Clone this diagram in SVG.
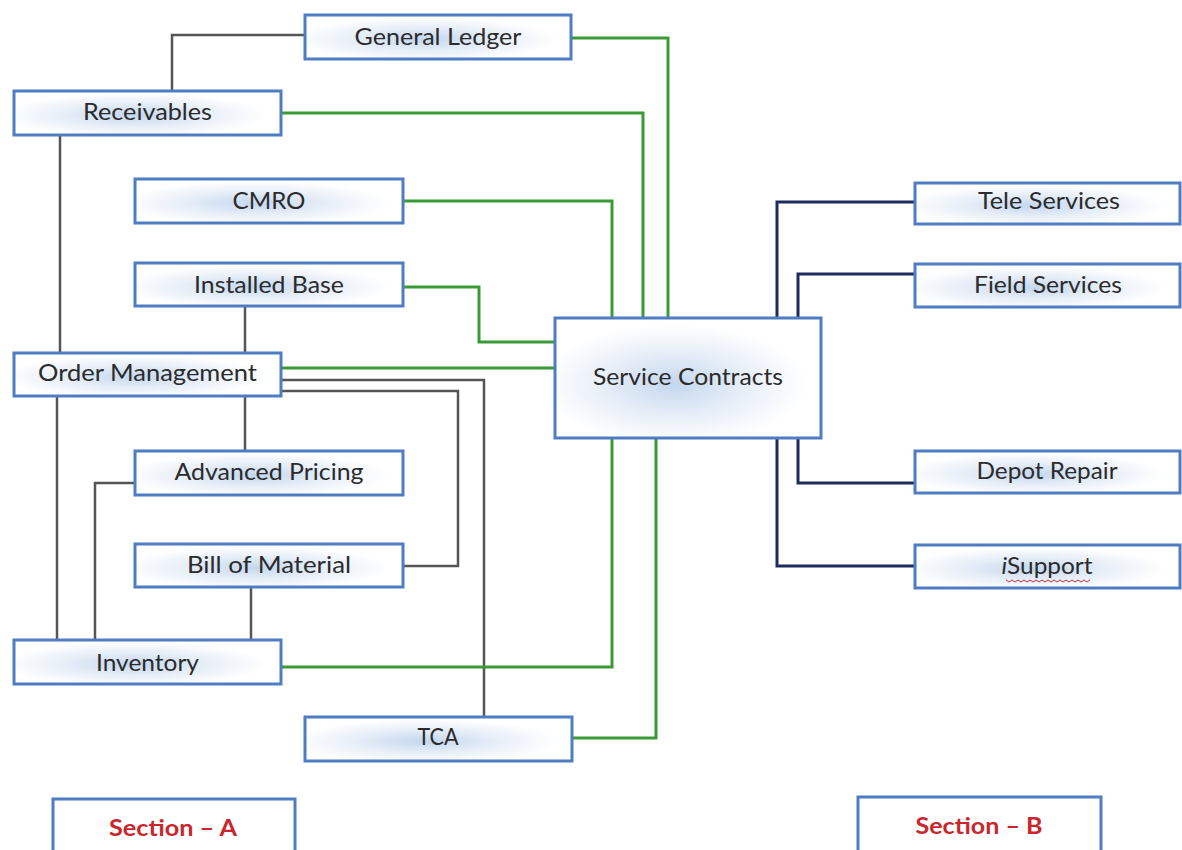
<svg xmlns="http://www.w3.org/2000/svg" width="1182" height="850" viewBox="0 0 1182 850">
<style>
.box{stroke:#4f7dc3;stroke-width:3;fill:url(#glow)}
.sec{stroke:#4f7dc3;stroke-width:3;fill:#ffffff}
.lbl{font-family:Lato,"Open Sans","Liberation Sans",sans-serif;font-size:23px;fill:#2b2b2b;text-anchor:middle}
.slbl{font-family:Lato,"Open Sans","Liberation Sans",sans-serif;font-size:22px;font-weight:bold;fill:#c8282d;text-anchor:middle}
.gray{fill:none;stroke:#555555;stroke-width:2.5}
.green{fill:none;stroke:#3a9a35;stroke-width:3}
.navy{fill:none;stroke:#1d2b5c;stroke-width:3}
</style>
<defs>
<radialGradient id="glow" cx="0.45" cy="0.55" r="0.5">
<stop offset="0" stop-color="#c4d7ee"/>
<stop offset="0.55" stop-color="#e8eff8"/>
<stop offset="1" stop-color="#ffffff"/>
</radialGradient>
</defs>
<rect width="1182" height="850" fill="#ffffff"/>
<g id="connectors">
<path class="gray" d="M305 35 H172 V91"/>
<path class="gray" d="M60 136 V353"/>
<path class="gray" d="M245 306 V353"/>
<path class="gray" d="M245 397 V451"/>
<path class="gray" d="M57 397 V640"/>
<path class="gray" d="M135 483 H95 V640"/>
<path class="gray" d="M251 588 V640"/>
<path class="gray" d="M282 380 H484 V717"/>
<path class="gray" d="M282 391 H458 V566 H404"/>
<path class="green" d="M571 38 H668 V318"/>
<path class="green" d="M282 113 H643 V318"/>
<path class="green" d="M404 201 H612 V318"/>
<path class="green" d="M404 287 H479 V342 H555"/>
<path class="green" d="M282 368 H555"/>
<path class="green" d="M282 667 H612 V438"/>
<path class="green" d="M573 738 H656 V438"/>
<path class="navy" d="M915 202 H777 V318"/>
<path class="navy" d="M915 274 H798 V318"/>
<path class="navy" d="M798 438 V483 H915"/>
<path class="navy" d="M777 438 V566 H915"/>
</g>
<g id="general-ledger"><rect class="box" x="305" y="15" width="266" height="44"/><text class="lbl" x="438" y="45" textLength="167" lengthAdjust="spacingAndGlyphs">General Ledger</text></g>
<g id="receivables"><rect class="box" x="14" y="91" width="267" height="44"/><text class="lbl" x="147.5" y="120" textLength="129" lengthAdjust="spacingAndGlyphs">Receivables</text></g>
<g id="cmro"><rect class="box" x="135" y="179" width="268" height="44"/><text class="lbl" x="269" y="209" textLength="73" lengthAdjust="spacingAndGlyphs">CMRO</text></g>
<g id="installed-base"><rect class="box" x="135" y="263" width="268" height="43"/><text class="lbl" x="269" y="293" textLength="150" lengthAdjust="spacingAndGlyphs">Installed Base</text></g>
<g id="order-management"><rect class="box" x="14" y="353" width="267" height="43"/><text class="lbl" x="147.5" y="381" textLength="219" lengthAdjust="spacingAndGlyphs">Order Management</text></g>
<g id="advanced-pricing"><rect class="box" x="135" y="451" width="268" height="44"/><text class="lbl" x="269" y="480" textLength="189" lengthAdjust="spacingAndGlyphs">Advanced Pricing</text></g>
<g id="bill-of-material"><rect class="box" x="135" y="544" width="268" height="43"/><text class="lbl" x="269" y="573" textLength="164" lengthAdjust="spacingAndGlyphs">Bill of Material</text></g>
<g id="inventory"><rect class="box" x="14" y="640" width="267" height="44"/><text class="lbl" x="147.5" y="671" textLength="103" lengthAdjust="spacingAndGlyphs">Inventory</text></g>
<g id="tca"><rect class="box" x="305" y="717" width="267" height="44"/><text class="lbl" x="438" y="745" textLength="41" lengthAdjust="spacingAndGlyphs">TCA</text></g>
<g id="service-contracts"><rect class="box" x="555" y="318" width="266" height="120"/><text class="lbl" x="688" y="385" textLength="190" lengthAdjust="spacingAndGlyphs">Service Contracts</text></g>
<g id="tele-services"><rect class="box" x="915" y="183" width="265" height="41"/><text class="lbl" x="1049" y="209" textLength="142" lengthAdjust="spacingAndGlyphs">Tele Services</text></g>
<g id="field-services"><rect class="box" x="915" y="264" width="265" height="43"/><text class="lbl" x="1048" y="293" textLength="148" lengthAdjust="spacingAndGlyphs">Field Services</text></g>
<g id="depot-repair"><rect class="box" x="915" y="451" width="265" height="42"/><text class="lbl" x="1047" y="479" textLength="141" lengthAdjust="spacingAndGlyphs">Depot Repair</text></g>
<g id="isupport"><rect class="box" x="915" y="545" width="265" height="43"/><text class="lbl" x="1047" y="574" textLength="91" lengthAdjust="spacingAndGlyphs"><tspan font-style="italic">i</tspan>Support</text><path d="M1006 580 l3 2 l3 -2 l3 2 l3 -2 l3 2 l3 -2 l3 2 l3 -2 l3 2 l3 -2 l3 2 l3 -2 l3 2 l3 -2 l3 2 l3 -2 l3 2 l3 -2 l3 2 l3 -2 l3 2 l3 -2 l3 2 l3 -2 l3 2 l3 -2 l3 2 l3 -2" fill="none" stroke="#d03030" stroke-width="1"/></g>
<g id="section-a"><rect class="sec" x="53" y="799" width="242" height="62"/><text class="slbl" x="173" y="836" textLength="128" lengthAdjust="spacingAndGlyphs">Section – A</text></g>
<g id="section-b"><rect class="sec" x="858" y="797" width="243" height="62"/><text class="slbl" x="979" y="834" textLength="127" lengthAdjust="spacingAndGlyphs">Section – B</text></g>
</svg>
